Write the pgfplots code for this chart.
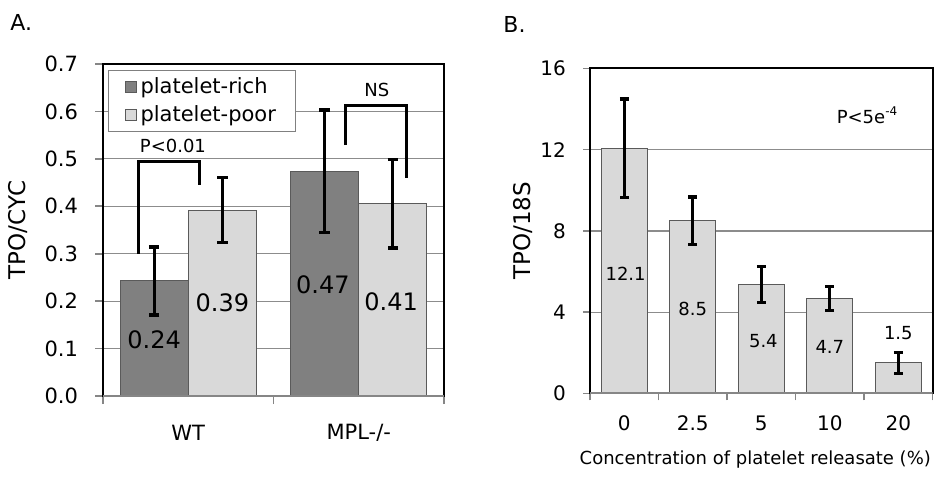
\documentclass[border=0pt]{standalone}
\usepackage{fontspec}
\setmainfont{DejaVu Sans}
\usepackage{pgfplots}
\pgfplotsset{compat=1.18}
\definecolor{darkbar}{HTML}{808080}
\definecolor{lightbar}{HTML}{D9D9D9}
\definecolor{baredge}{HTML}{5A5A5A}
\definecolor{gridc}{HTML}{8C8C8C}
\definecolor{axisgray}{HTML}{868686}
\pgfplotsset{
  panel/.style={
    scale only axis, anchor=south west,
    axis line style={black, line width=1pt},
    tick align=outside, xtick pos=bottom, ytick pos=left,
    major tick length=4pt, minor tick length=4pt,
    every tick/.style={axisgray, line width=0.8pt},
    major x tick style={draw=none},
    minor x tick style={axisgray, line width=0.8pt},
    ymajorgrids, grid style={gridc, line width=0.6pt},
    /pgf/number format/assume math mode=true,
    ybar,
    xticklabel style={anchor=center},
    yticklabel style={anchor=east},
  },
  ebar/.style={error bars/.cd, y dir=both, y explicit,
    error bar style={black, line width=1.6pt},
    error mark options={black, line width=1.6pt, mark size=#1, rotate=90}},
  brk/.style={sharp plot, no marks, black, line width=1.5pt, forget plot},
}
\begin{document}
\begin{tikzpicture}
\useasboundingbox (0,0) rectangle (472.5pt,242pt);
\node[anchor=west, font=\fontsize{11}{12}\selectfont, inner sep=0pt] at (5pt,231pt) {A.};
\node[anchor=west, font=\fontsize{11}{12}\selectfont, inner sep=0pt] at (251.5pt,230pt) {B.};
% ---------------- Panel A ----------------
\begin{axis}[panel,
  at={(51.5pt,44pt)}, width=170.5pt, height=166pt,
  xmin=-0.5, xmax=1.5, ymin=0, ymax=0.7,
  xtick={0,1}, xticklabels={WT,MPL-/-},
  minor xtick={-0.5,0.5,1.5},
  ytick={0,0.1,0.2,0.3,0.4,0.5,0.6,0.7},
  yticklabel style={/pgf/number format/fixed, /pgf/number format/fixed zerofill, /pgf/number format/precision=1},
  tick label style={font=\fontsize{10.5}{12}\selectfont},
  xticklabel style={yshift=-14.5pt},
  yticklabel style={xshift=-5pt},
  ylabel={TPO/CYC},
  ylabel style={font=\fontsize{11.5}{13}\selectfont, at={(rel axis cs:0,0.5)}, anchor=center, yshift=42.5pt},
  legend style={at={(0.0147,0.982)}, anchor=north west, draw=gray, line width=0.5pt,
    font=\fontsize{10.5}{12}\selectfont, inner xsep=8pt, inner ysep=1.5pt, row sep=0.5pt},
  legend cell align=left,
  legend image code/.code={\draw[#1, line width=0.5pt] (0pt,-2.75pt) rectangle (5.5pt,2.75pt);},
]
\addplot[fill=darkbar, draw=baredge, line width=0.5pt, bar width=0.4, bar shift=-0.2, ebar=2.6pt]
  coordinates {(0,0.2425) +- (0,0.0715) (1,0.474) +- (0,0.129)};
\addplot[fill=lightbar, draw=baredge, line width=0.5pt, bar width=0.4, bar shift=0.2, ebar=2.6pt]
  coordinates {(0,0.392) +- (0,0.0685) (1,0.4055) +- (0,0.0935)};
\legend{platelet-rich, platelet-poor}
\addplot[brk] coordinates {(-0.293,0.30) (-0.293,0.495) (0.067,0.495) (0.067,0.445)};
\addplot[brk] coordinates {(0.925,0.529) (0.925,0.612) (1.28,0.612) (1.28,0.459)};
\draw[axisgray, line width=1pt] (rel axis cs:0,0) -- (rel axis cs:1,0);
\node[font=\fontsize{9}{11}\selectfont] at (axis cs:-0.09,0.528) {P<0.01};
\node[font=\fontsize{9}{11}\selectfont] at (axis cs:1.106,0.645) {NS};
\node[font=\fontsize{12}{13}\selectfont] at (axis cs:-0.2,0.118) {0.24};
\node[font=\fontsize{12}{13}\selectfont] at (axis cs:0.2,0.196) {0.39};
\node[font=\fontsize{12}{13}\selectfont] at (axis cs:0.79,0.234) {0.47};
\node[font=\fontsize{12}{13}\selectfont] at (axis cs:1.19,0.199) {0.41};
\end{axis}
% ---------------- Panel B ----------------
\begin{axis}[panel,
  at={(295pt,45.3pt)}, width=171.3pt, height=162.5pt,
  xmin=-0.5, xmax=4.5, ymin=0, ymax=16,
  xtick={0,1,2,3,4}, xticklabels={0,2.5,5,10,20},
  minor xtick={-0.5,0.5,1.5,2.5,3.5,4.5},
  major tick length=3.5pt, minor tick length=3.5pt,
  ytick={0,4,8,12,16},
  tick label style={font=\fontsize{10}{12}\selectfont},
  xticklabel style={yshift=-11.5pt},
  yticklabel style={xshift=-5pt},
  ylabel={TPO/18S},
  ylabel style={font=\fontsize{11.5}{13}\selectfont, at={(rel axis cs:0,0.5)}, anchor=center, yshift=33.5pt},
  xlabel={Concentration of platelet releasate (\%)},
  xlabel style={font=\fontsize{9}{11}\selectfont, at={(rel axis cs:0.5,0)}, anchor=center, yshift=-33.3pt, xshift=-3pt},
]
\addplot[fill=lightbar, draw=baredge, line width=0.5pt, bar width=0.667, bar shift=0, ebar=2.2pt]
  coordinates {(0,12.07) +- (0,2.42) (1,8.505) +- (0,1.165) (2,5.345) +- (0,0.885) (3,4.69) +- (0,0.59) (4,1.505) +- (0,0.525)};
\draw[axisgray, line width=1pt] (rel axis cs:0,0) -- (rel axis cs:1,0);
\node[font=\fontsize{9}{11}\selectfont] at (axis cs:0.02,5.9) {12.1};
\node[font=\fontsize{9}{11}\selectfont] at (axis cs:1.0,4.18) {8.5};
\node[font=\fontsize{9}{11}\selectfont] at (axis cs:2.03,2.59) {5.4};
\node[font=\fontsize{9}{11}\selectfont] at (axis cs:3.0,2.29) {4.7};
\node[font=\fontsize{9}{11}\selectfont] at (axis cs:4.0,2.95) {1.5};
\node[font=\fontsize{9}{11}\selectfont] at (axis cs:3.55,13.7) {P<5e\textsuperscript{-4}};
\end{axis}
\end{tikzpicture}
\end{document}
